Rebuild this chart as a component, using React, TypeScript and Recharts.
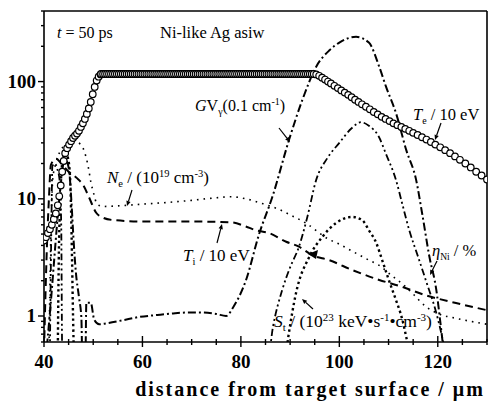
import { LineChart, Line, XAxis, YAxis, Customized } from "recharts";

type Row = [number, number];

// x: distance from target surface (µm), second value: quantity in the axis units
const X_TICKS = [40, 45, 50, 55, 60, 65, 70, 75, 80, 85, 90, 95, 100, 105, 110, 115, 120, 125, 130];
const X_LABELS = [40, 60, 80, 100, 120];
const Y_TICKS = [0.6, 0.7, 0.8, 0.9, 1, 2, 3, 4, 5, 6, 7, 8, 9, 10, 20, 30, 40, 50, 60, 70, 80, 90, 100, 200, 300, 400];
const Y_LABELS = [1, 10, 100];

// Te / 10 eV (open circles): rising front, flat top, falling tail
const TE_FRONT: Row[] = [
  [40, 4.4], [40.4, 4.7], [40.8, 5.1], [41.2, 5.5], [41.6, 6], [42, 6.7], [42.4, 7.5], [42.8, 8.8],
  [43.1, 10.5], [43.4, 13], [43.7, 17], [44, 21], [44.3, 24.5], [44.7, 27], [45.1, 29], [45.5, 31],
  [45.9, 33], [46.3, 34.5], [46.7, 36], [47.1, 38], [47.5, 41], [47.9, 44], [48.3, 48], [48.7, 53],
  [49.1, 59], [49.5, 67], [49.9, 78], [50.3, 90], [50.7, 102], [51.1, 110], [51.5, 115],
];
const TE_TOP = 116;
const TE_TOP_X = [
  51.6, 52, 52.4, 52.8, 53.2, 53.6, 54, 54.4, 54.8, 55.2, 55.6, 56, 56.4, 56.8, 57.2, 57.6, 58, 58.4, 58.8,
  59.2, 59.6, 60, 60.4, 60.8, 61.2, 61.6, 62, 62.4, 62.8, 63.2, 63.6, 64, 64.4, 64.8, 65.2, 65.6, 66, 66.4,
  66.8, 67.2, 67.6, 68, 68.4, 68.8, 69.2, 69.6, 70, 70.4, 70.8, 71.2, 71.6, 72, 72.4, 72.8, 73.2, 73.6, 74,
  74.4, 74.8, 75.2, 75.6, 76, 76.4, 76.8, 77.2, 77.6, 78, 78.4, 78.8, 79.2, 79.6, 80, 80.4, 80.8, 81.2, 81.6,
  82, 82.4, 82.8, 83.2, 83.6, 84, 84.4, 84.8, 85.2, 85.6, 86, 86.4, 86.8, 87.2, 87.6, 88, 88.4, 88.8, 89.2,
  89.6, 90, 90.4, 90.8, 91.2, 91.6, 92, 92.4, 92.8, 93.2, 93.6, 94, 94.4, 94.8,
];
const TE_TAIL: Row[] = [
  [95.3, 115], [95.9, 112], [96.5, 108], [97.1, 104], [97.7, 100], [98.3, 96.5], [99, 92], [99.7, 88],
  [100.4, 84], [101.1, 80.5], [101.8, 77], [102.5, 73.5], [103.2, 70], [103.9, 67], [104.6, 64], [105.4, 61],
  [106.2, 58], [107, 55], [107.8, 52.5], [108.6, 50], [109.4, 48], [110.2, 46], [111, 44], [111.8, 42.5],
  [112.6, 41], [113.4, 39.5], [114.2, 38], [115, 36.5], [115.9, 35], [116.8, 33.5], [117.7, 32], [118.6, 30.5],
  [119.5, 29], [120.5, 27.5], [121.5, 26], [122.5, 24.5], [123.5, 23], [124.5, 21.5], [125.6, 20], [126.7, 18.5],
  [127.8, 17], [128.9, 15.8], [130, 14.6],
];

// G·V (0.1 cm^-1), dash-dot
const GV: Row[] = [
  [40.6, 0.55], [41.5, 1.5], [42.3, 4], [43, 9], [43.5, 14.5], [44.2, 22], [44.8, 20], [45.2, 16],
  [45.6, 9], [46, 4.5], [46.5, 2.3], [47.1, 1.45], [47.6, 0.95], [47.8, 0.4], [48.4, 0.4], [48.6, 1.3],
  [49.5, 1.3], [50.2, 0.93], [51.2, 0.85], [53, 0.87], [56, 0.92], [59.3, 0.98], [63, 1.02], [66, 1.05],
  [69, 1.07], [72, 1.07], [75, 1.04], [77, 1.0], [78.5, 1.2], [81, 2.0], [83.7, 5.0], [86.4, 10.4],
  [89.8, 32], [92.5, 70], [95.3, 134], [98, 185], [100, 215], [103.4, 241], [106, 215], [108.1, 134],
  [109.5, 90], [111.5, 54], [113.6, 26], [115.6, 14.5], [116.8, 7.6], [118.3, 3.2], [119.7, 1.67],
  [120.5, 0.9], [121.2, 0.5],
];

// Ne / (10^19 cm^-3), fine dots
const NE: Row[] = [
  [41, 0.5], [41.4, 5], [41.8, 15], [42.4, 20], [43.2, 25], [44.5, 29], [46, 31], [47.5, 29],
  [48.5, 23], [49.1, 17.7], [49.5, 14], [50, 11.5], [50.8, 9], [52, 8.6], [55, 8.7], [60, 9],
  [65, 9.3], [70, 9.7], [75, 10.2], [78, 10.4], [81, 10], [84, 9.2], [87.8, 8.1], [90, 7.3],
  [93.2, 6.2], [97.9, 4.5], [100, 4.1], [103, 3.5], [106, 3.0], [108.1, 2.7], [110.7, 2.2], [113, 1.85],
  [114.8, 1.57], [117.6, 1.2], [120, 1.05], [124, 0.95], [130, 0.85],
];

// Ti / 10 eV, dashed
const TI: Row[] = [
  [40, 0.5], [40.6, 4], [41, 10], [41.4, 19.5], [42.5, 22], [43.5, 20], [45, 17], [46.7, 15],
  [48, 13], [49.1, 10.4], [50.6, 7.6], [52, 6.9], [53.8, 6.6], [60, 6.4], [70, 6.4], [78, 6.3],
  [81, 5.8], [83, 5.4], [85.7, 5.1], [89.2, 4.3], [91.8, 3.9], [94.5, 3.3], [97.9, 3.0], [102.6, 2.47],
  [108.1, 2.03], [112.8, 1.77], [117.6, 1.5], [123.7, 1.29], [130, 1.12],
];

// eta_Ni / %, dash-dot-dot
const ETA: Row[] = [
  [41.2, 0.5], [41.5, 6], [41.7, 19], [42.2, 20], [42.7, 18], [43.2, 14], [43.5, 6], [43.7, 0.5],
  [85.7, 0.5], [86.5, 0.8], [88.4, 1.67], [90, 2.6], [91.8, 3.9], [93.5, 7], [95.3, 14.5], [97.5, 22],
  [100, 30], [102.5, 40], [104.4, 45], [106, 42], [108, 34], [109.5, 24], [111.5, 14.5], [112.8, 9],
  [114.2, 5.4], [116, 3.2], [117.6, 2.0], [119.7, 1.06], [120.9, 0.66], [121.5, 0.5],
];

// St / (10^23 keV s^-1 cm^-3), heavy dots
const ST: Row[] = [
  [42.8, 0.5], [43, 3], [43.3, 10], [43.7, 20], [44.3, 25], [44.9, 22], [45.3, 15], [45.5, 8],
  [45.7, 3], [45.9, 1], [46.1, 0.5], [89.2, 0.5], [89.6, 0.65], [91.2, 1.57], [93.9, 3.2], [96.5, 4.7],
  [99.3, 6.2], [102.6, 7.0], [104.6, 6.6], [106, 5.4], [107.5, 4.2], [108.7, 3.0], [110.1, 2.0],
  [111.5, 1.37], [112.8, 0.93], [113.6, 0.66], [114.2, 0.5],
];

const toPoints = (rows: Row[]) => rows.map(([x, v]) => ({ x, v }));
const tePoints = [
  ...toPoints(TE_FRONT),
  ...TE_TOP_X.map((x) => ({ x, v: TE_TOP })),
  ...toPoints(TE_TAIL),
];

const FONT = '"Liberation Serif", "DejaVu Serif", "Times New Roman", serif';

function BottomTick({ x, y, payload }: any) {
  const major = X_LABELS.includes(payload.value);
  return (
    <g>
      <line x1={x} x2={x} y1={y - (major ? 6 : 3)} y2={y + (major ? 5 : 3)} stroke="#000" strokeWidth={1.4} />
      {major && (
        <text x={x} y={y + 26} textAnchor="middle" fontFamily={FONT} fontSize={19} fontWeight={700} fill="#000">
          {payload.value}
        </text>
      )}
    </g>
  );
}

function TopTick({ x, y, payload }: any) {
  const major = X_LABELS.includes(payload.value);
  return <line x1={x} x2={x} y1={y} y2={y + (major ? 6 : 3)} stroke="#000" strokeWidth={1.4} />;
}

function LeftTick({ x, y, payload }: any) {
  const major = Y_LABELS.includes(payload.value);
  return (
    <g>
      <line x1={x - (major ? 6 : 3)} x2={x} y1={y} y2={y} stroke="#000" strokeWidth={1.4} />
      {major && (
        <text x={x - 8} y={y + 6} textAnchor="end" fontFamily={FONT} fontSize={19} fontWeight={700} fill="#000">
          {payload.value}
        </text>
      )}
    </g>
  );
}

function Arrow({ x1, y1, x2, y2 }: { x1: number; y1: number; x2: number; y2: number }) {
  const a = Math.atan2(y2 - y1, x2 - x1);
  const h = 5;
  const w = 2.2;
  const bx = x2 - h * Math.cos(a);
  const by = y2 - h * Math.sin(a);
  const pts = [
    [x2, y2],
    [bx + w * Math.sin(a), by - w * Math.cos(a)],
    [bx - w * Math.sin(a), by + w * Math.cos(a)],
  ]
    .map((p) => p.join(","))
    .join(" ");
  return (
    <g>
      <line x1={x1} y1={y1} x2={bx} y2={by} stroke="#000" strokeWidth={1.2} />
      <polygon points={pts} fill="#000" />
    </g>
  );
}

function Annotations() {
  const t = { fontFamily: FONT, fill: "#000" } as const;
  return (
    <g>
      <text x={57} y={38} fontSize={16} {...t}>
        <tspan fontStyle="italic">t</tspan> = 50 ps
      </text>
      <text x={160} y={38} fontSize={16.5} {...t}>
        Ni-like Ag asiw
      </text>

      <text x={195} y={111} fontSize={16} {...t}>
        <tspan fontStyle="italic">G</tspan>V<tspan fontSize={10} dy={4}>γ</tspan>
        <tspan dy={-4}>(0.1 cm</tspan>
        <tspan fontSize={10} dy={-6}>-1</tspan>
        <tspan dy={6}>)</tspan>
      </text>
      <Arrow x1={279} y1={128} x2={290} y2={142} />

      <text x={107} y={183} fontSize={17} {...t}>
        <tspan fontStyle="italic">N</tspan>
        <tspan fontSize={10.5} dy={4}>e</tspan>
        <tspan dy={-4}> / (10</tspan>
        <tspan fontSize={10.5} dy={-6}>19</tspan>
        <tspan dy={6}> cm</tspan>
        <tspan fontSize={10.5} dy={-6}>-3</tspan>
        <tspan dy={6}>)</tspan>
      </text>
      <Arrow x1={132} y1={190} x2={127} y2={206} />

      <text x={183} y={261} fontSize={17} {...t}>
        <tspan fontStyle="italic">T</tspan>
        <tspan fontSize={10.5} dy={4}>i</tspan>
        <tspan dy={-4}> / 10 eV</tspan>
      </text>
      <Arrow x1={217} y1={243} x2={222} y2={224} />

      <text x={413} y={120} fontSize={16.5} {...t}>
        <tspan fontStyle="italic">T</tspan>
        <tspan fontSize={10} dy={4}>e</tspan>
        <tspan dy={-4}> / 10 eV</tspan>
      </text>
      <Arrow x1={441} y1={123} x2={435} y2={140} />

      <text x={432} y={256} fontSize={16.5} {...t}>
        <tspan fontStyle="italic">η</tspan>
        <tspan fontSize={9.5} dy={4}>Ni</tspan>
        <tspan dy={-4}> / %</tspan>
      </text>
      <Arrow x1={437} y1={261} x2={430} y2={275} />

      <text x={274} y={327} fontSize={17.5} {...t}>
        <tspan fontStyle="italic">S</tspan>
        <tspan fontSize={11} dy={4}>t</tspan>
        <tspan dy={-4}> / (10</tspan>
        <tspan fontSize={11} dy={-6}>23</tspan>
        <tspan dy={6}> keV•s</tspan>
        <tspan fontSize={11} dy={-6}>-1</tspan>
        <tspan dy={6}>•cm</tspan>
        <tspan fontSize={11} dy={-6}>-3</tspan>
        <tspan dy={6}>)</tspan>
      </text>
      <Arrow x1={313} y1={309} x2={302} y2={299} />
      <polygon points="308,254 318,250 316,259" fill="#000" />

      <text
        x={310}
        y={396}
        textAnchor="middle"
        fontSize={20}
        fontWeight={700}
        letterSpacing={2}
        {...t}
      >
        distance from target surface / μm
      </text>
    </g>
  );
}

const axisLine = { stroke: "#000", strokeWidth: 1.6 };

export default function App() {
  return (
    <div style={{ position: "absolute", left: 0, top: 0, background: "#fff" }}>
      <LineChart width={490} height={404} margin={{ top: 0, right: 0, bottom: 0, left: 0 }}>
        <XAxis
          xAxisId="b"
          dataKey="x"
          type="number"
          domain={[40, 130]}
          ticks={X_TICKS}
          interval={0}
          tick={<BottomTick />}
          tickLine={false}
          tickSize={0}
          tickMargin={0}
          height={62}
          axisLine={axisLine}
          allowDataOverflow
        />
        <XAxis
          xAxisId="t"
          orientation="top"
          dataKey="x"
          type="number"
          domain={[40, 130]}
          ticks={X_TICKS}
          interval={0}
          tick={<TopTick />}
          tickLine={false}
          tickSize={0}
          tickMargin={0}
          height={11}
          axisLine={axisLine}
        />
        <YAxis
          yAxisId="l"
          type="number"
          scale="log"
          domain={[0.6, 400]}
          ticks={Y_TICKS}
          interval={0}
          tick={<LeftTick />}
          tickLine={false}
          tickSize={0}
          tickMargin={0}
          width={44}
          axisLine={axisLine}
          allowDataOverflow
        />
        <YAxis
          yAxisId="r"
          orientation="right"
          type="number"
          scale="log"
          domain={[0.6, 400]}
          tick={false}
          tickLine={false}
          width={3}
          axisLine={axisLine}
        />

        <Line xAxisId="b" yAxisId="l" data={toPoints(TI)} dataKey="v" type="monotone" stroke="#000"
          strokeWidth={2} strokeDasharray="8 5" dot={false} isAnimationActive={false} />
        <Line xAxisId="b" yAxisId="l" data={toPoints(NE)} dataKey="v" type="monotone" stroke="#000"
          strokeWidth={1.6} strokeDasharray="1.6 5" dot={false} isAnimationActive={false} />
        <Line xAxisId="b" yAxisId="l" data={toPoints(GV)} dataKey="v" type="monotone" stroke="#000"
          strokeWidth={2} strokeDasharray="8 3 2 3" dot={false} isAnimationActive={false} />
        <Line xAxisId="b" yAxisId="l" data={toPoints(ETA)} dataKey="v" type="monotone" stroke="#000"
          strokeWidth={1.8} strokeDasharray="7 3 2 3 2 3" dot={false} isAnimationActive={false} />
        <Line xAxisId="b" yAxisId="l" data={toPoints(ST)} dataKey="v" type="monotone" stroke="#000"
          strokeWidth={2.4} strokeDasharray="2.4 3" dot={false} isAnimationActive={false} />
        <Line
          xAxisId="b"
          yAxisId="l"
          data={tePoints}
          dataKey="v"
          type="linear"
          stroke="none"
          isAnimationActive={false}
          dot={(p: any) => (
            <circle key={`te-${p.index}`} cx={p.cx} cy={p.cy} r={3.3} fill="#fff" stroke="#000" strokeWidth={1.2} />
          )}
        />
        <Customized component={Annotations} />
      </LineChart>
    </div>
  );
}
